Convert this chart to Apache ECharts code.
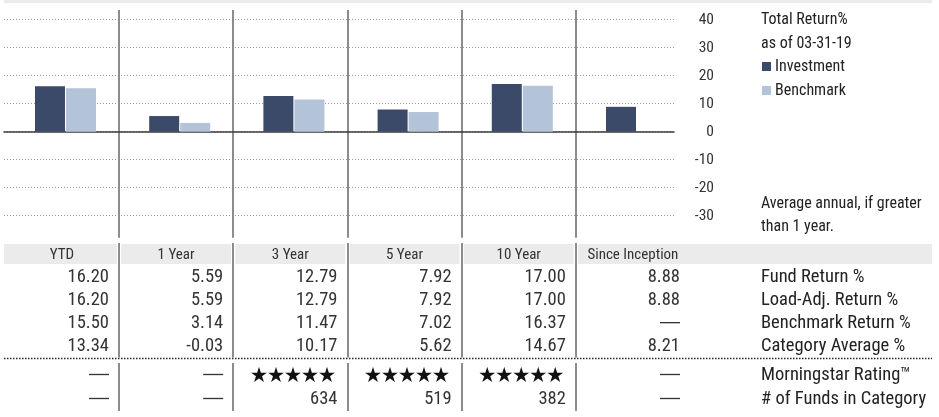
<!DOCTYPE html>
<html>
<head>
<meta charset="utf-8">
<script src="https://cdn.jsdelivr.net/npm/echarts@6/dist/echarts.min.js"></script>
<style>
html,body{margin:0;padding:0;background:#fff;}
#c{width:939px;height:417px;}
</style>
</head>
<body>
<div id="c"></div>
<script>
// ---- data ----
const columns = ['YTD', '1 Year', '3 Year', '5 Year', '10 Year', 'Since Inception'];
const fundReturn = [16.20, 5.59, 12.79, 7.92, 17.00, 8.88];
const loadAdjReturn = [16.20, 5.59, 12.79, 7.92, 17.00, 8.88];
const benchmarkReturn = [15.50, 3.14, 11.47, 7.02, 16.37, null];
const categoryAverage = [13.34, -0.03, 10.17, 5.62, 14.67, 8.21];
const morningstarRating = [null, null, 5, 5, 5, null];
const fundsInCategory = [null, null, 634, 519, 382, null];
const topRowLabels = ['', 'Fund Return %', 'Load-Adj. Return %', 'Benchmark Return %', 'Category Average %'];
const bottomRowLabels = ['Morningstar Rating™', '# of Funds in Category'];
const seriesNames = ['Investment', 'Benchmark'];
const axisMin = -40, axisMax = 40, axisStep = 10;

// ---- styles ----
const FONT = "'Liberation Sans Narrow', 'Arial Narrow', 'Roboto Condensed', 'DejaVu Sans Condensed', sans-serif";
const INV = '#3b4a68', BEN = '#b3c3d8';
const SEP = '#8c8c8c';
const DASH = '\u2014';

const fmt = v => (v === null || v === undefined) ? DASH : v.toFixed(2);

const topCells = [];
columns.forEach((c, i) => topCells.push({col: i, row: 0, text: c, kind: 'header'}));
[fundReturn, loadAdjReturn, benchmarkReturn, categoryAverage].forEach((arr, r) => {
  arr.forEach((v, i) => topCells.push({col: i, row: r + 1, text: fmt(v), kind: v === null ? 'dash' : 'num'}));
});
const bottomCells = [];
morningstarRating.forEach((v, i) => bottomCells.push({col: i, row: 0, text: v ? '\u2605'.repeat(v) : DASH, kind: v ? 'star' : 'dash'}));
fundsInCategory.forEach((v, i) => bottomCells.push({col: i, row: 1, text: v === null ? DASH : String(v), kind: v === null ? 'dash' : 'num'}));

function makeRender(cells) {
  return function (params, api) {
    const cell = cells[params.dataIndex];
    const p = api.coord([api.value(0), api.value(1)]);
    const w = api.size([1, 0])[0];
    if (cell.kind === 'header') {
      const last = cell.col === columns.length - 1;
      const x0 = cell.col === 0 ? p[0] - w / 2 - 0.8 : p[0] - w / 2 + 2.2;
      const x1 = last ? api.getWidth() - 7 : p[0] + w / 2 - 2.2;
      return {
        type: 'group',
        children: [
          {type: 'rect', shape: {x: x0, y: p[1] - 10.5, width: x1 - x0, height: 20}, style: {fill: '#ebebeb'}},
          {type: 'text', x: p[0], y: p[1] + 0.5, style: {text: cell.text, fill: '#333', font: '15px ' + FONT, align: 'center', verticalAlign: 'middle', textAlign: 'center', textVerticalAlign: 'middle'}}
        ]
      };
    }
    const right = p[0] + w / 2 - 10;
    if (cell.kind === 'dash') {
      return {type: 'line', shape: {x1: right - 20, y1: p[1] - 0.5, x2: right, y2: p[1] - 0.5},
              style: {stroke: '#333', lineWidth: 1.3}};
    }
    let font = '18.5px ' + FONT, dx = 10;
    if (cell.kind === 'star') { font = '17px "Noto Sans CJK SC"'; dx = 12; }
    return {
      type: 'text', x: p[0] + w / 2 - dx, y: p[1],
      style: {text: cell.text, fill: cell.kind === 'star' ? '#111' : '#333', font: font, align: 'right', verticalAlign: 'middle', textAlign: 'right', textVerticalAlign: 'middle'}
    };
  };
}

const sepX = (grid) => ({
  gridIndex: grid, type: 'category', data: columns, boundaryGap: true,
  axisLine: {show: false}, axisTick: {show: false}, axisLabel: {show: false},
  splitLine: {show: true, interval: 0, showMinLine: false, showMaxLine: false, lineStyle: {color: SEP, width: 2}}
});

const chart = echarts.init(document.getElementById('c'), null, {renderer: 'canvas'});
chart.setOption({
  animation: false,
  backgroundColor: '#fff',
  title: [
    {text: 'Total Return%\nas of 03-31-19', left: 761, top: 8, padding: 0,
     textStyle: {fontFamily: FONT, fontSize: 16, fontWeight: 'normal', color: '#222', lineHeight: 24}},
    {text: 'Average annual, if greater\nthan 1 year.', left: 761, top: 192, padding: 0,
     textStyle: {fontFamily: FONT, fontSize: 16, fontWeight: 'normal', color: '#222', lineHeight: 23}}
  ],
  legend: {
    data: seriesNames, orient: 'vertical', left: 762, top: 58.5, padding: 0,
    itemWidth: 9, itemHeight: 9, itemGap: 8, icon: 'rect',
    textStyle: {fontFamily: FONT, fontSize: 16, color: '#222', lineHeight: 16, padding: [0, 0, 0, -1]}
  },
  grid: [
    {left: 8.4, width: 685.2, top: 19.7, height: 224},
    {left: 4, width: 670, top: 19.7, height: 224},
    {left: 4.8, width: 685.2, top: 10, height: 227.7},
    {left: 4.8, width: 685.2, top: 243, height: 114.5},
    {left: 4.8, width: 685.2, top: 363, height: 48}
  ],
  xAxis: [
    {gridIndex: 0, type: 'category', data: columns, show: false},
    {gridIndex: 1, type: 'value', min: 0, max: 1,
     axisLine: {show: true, onZero: true, lineStyle: {color: '#3a3a3a', width: 1.5}},
     axisTick: {show: false}, axisLabel: {show: false}, splitLine: {show: false}},
    sepX(2), sepX(3), sepX(4)
  ],
  yAxis: [
    {gridIndex: 0, type: 'value', min: axisMin, max: axisMax, interval: axisStep, show: false},
    {gridIndex: 1, type: 'value', min: axisMin, max: axisMax, interval: axisStep, position: 'right',
     axisLine: {show: false}, axisTick: {show: false},
     axisLabel: {showMinLabel: false, align: 'right', margin: 40, fontFamily: FONT, fontSize: 15.5, color: '#333'},
     splitLine: {show: true, showMinLine: false, lineStyle: {type: [1, 2], color: '#999', width: 1}}},
    {gridIndex: 2, type: 'value', show: false},
    {gridIndex: 3, type: 'category', data: topRowLabels, inverse: true, position: 'right',
     axisLine: {show: false}, axisTick: {show: false}, splitLine: {show: false},
     axisLabel: {interval: 0, align: 'left', margin: 71, fontFamily: FONT, fontSize: 18.5, color: '#222'}},
    {gridIndex: 4, type: 'category', data: bottomRowLabels, inverse: true, position: 'right',
     axisLine: {show: false}, axisTick: {show: false}, splitLine: {show: false},
     axisLabel: {interval: 0, align: 'left', margin: 71, fontFamily: FONT, fontSize: 18.5, color: '#222'}}
  ],
  series: [
    {name: seriesNames[0], type: 'bar', xAxisIndex: 0, yAxisIndex: 0, data: fundReturn,
     barWidth: 30, barGap: '3.4%', itemStyle: {color: INV}},
    {name: seriesNames[1], type: 'bar', xAxisIndex: 0, yAxisIndex: 0, data: benchmarkReturn,
     barWidth: 30, barGap: '3.4%', itemStyle: {color: BEN}},
    {type: 'custom', xAxisIndex: 3, yAxisIndex: 3, data: topCells.map(c => [c.col, c.row]),
     renderItem: makeRender(topCells), silent: true, z: 3},
    {type: 'custom', xAxisIndex: 4, yAxisIndex: 4, data: bottomCells.map(c => [c.col, c.row]),
     renderItem: makeRender(bottomCells), silent: true, z: 3}
  ],
  graphic: [
    {type: 'rect', shape: {x: 4, y: 0, width: 928, height: 3}, style: {fill: '#ebebeb'}, silent: true},
    {type: 'line', shape: {x1: 4, y1: 358.5, x2: 932, y2: 358.5}, style: {stroke: '#222', lineWidth: 1.5, lineDash: [1.5, 1.5]}, silent: true}
  ]
});
</script>
</body>
</html>
